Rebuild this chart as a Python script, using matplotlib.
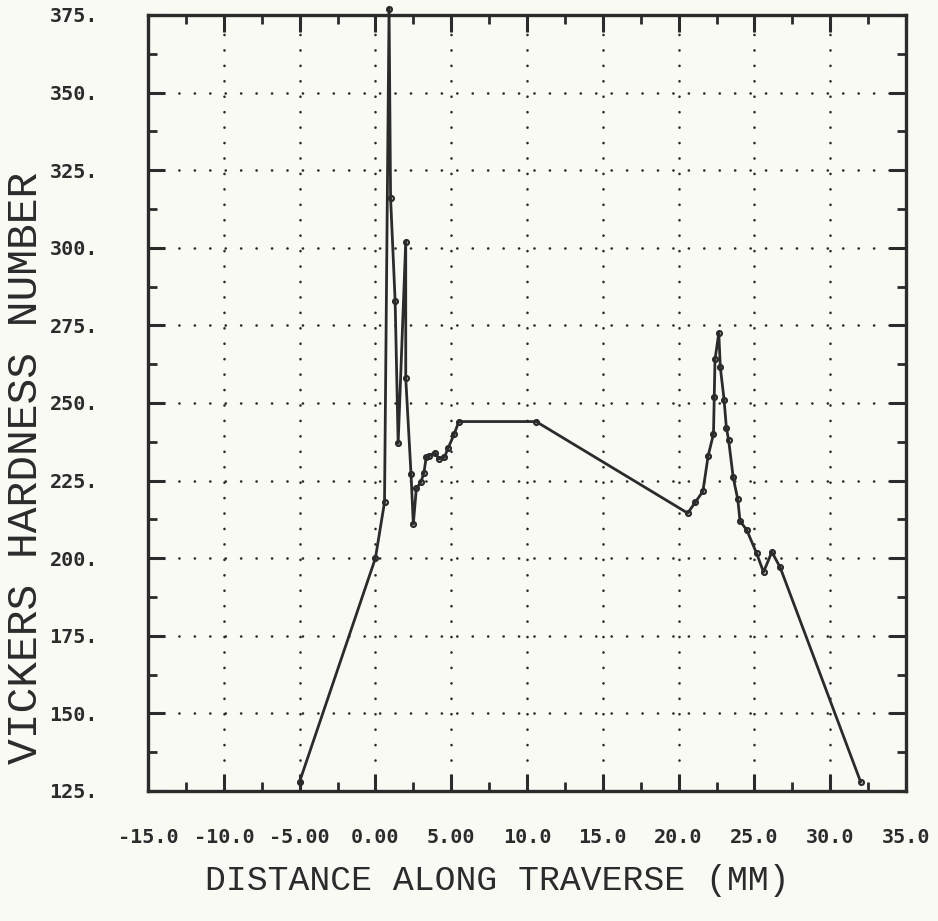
import matplotlib
matplotlib.use("Agg")
import matplotlib.pyplot as plt
from matplotlib.ticker import MultipleLocator, FixedLocator

# Hardness traverse readings (distance in mm, Vickers hardness)
distance = [-5.0, 0.0, 0.6, 0.9, 1.0, 1.3, 1.5, 2.0, 2.0, 2.35, 2.5,
            2.7, 3.0, 3.2, 3.35, 3.55, 3.9, 4.2, 4.55, 4.8, 5.2, 5.5,
            10.6, 20.6, 21.1, 21.6, 21.95, 22.3, 22.35, 22.4, 22.65,
            22.75, 23.0, 23.15, 23.3, 23.6, 23.9, 24.05, 24.5, 25.15,
            25.6, 26.15, 26.7, 32.0]
hardness = [128, 200, 218, 377, 316, 283, 237, 302, 258, 227, 211,
            222.5, 224.5, 227.5, 232.5, 233, 234, 232, 232.5, 235.5, 240, 244,
            244, 214.5, 218, 221.5, 233, 240, 252, 264, 272.5,
            261.5, 251, 242, 238, 226, 219, 212, 209, 201.5,
            195.5, 202, 197, 128]

x_ticks = [-15, -10, -5, 0, 5, 10, 15, 20, 25, 30, 35]
x_tick_labels = ["-15.0", "-10.0", "-5.00", "0.00", "5.00", "10.0",
                 "15.0", "20.0", "25.0", "30.0", "35.0"]
y_ticks = [125, 150, 175, 200, 225, 250, 275, 300, 325, 350, 375]
y_tick_labels = ["125.", "150.", "175.", "200.", "225.", "250.",
                 "275.", "300.", "325.", "350.", "375."]

ink = "#2b2b2b"
paper = "#fafaf5"
mono = ["DejaVu Sans Mono"]
title_font = ["Liberation Mono", "DejaVu Sans Mono"]

fig = plt.figure(figsize=(9.38, 9.21), dpi=100, facecolor=paper)
ax = fig.add_axes([0.1578, 0.1412, 0.8081, 0.8426], facecolor=paper)

ax.plot(distance, hardness, color=ink, lw=2.0, marker="o", ms=3.5,
        mfc="none", mec=ink, mew=1.6, clip_on=False, zorder=3)

ax.set_xlim(-15, 35)
ax.set_ylim(125, 375)

ax.xaxis.set_major_locator(FixedLocator(x_ticks))
ax.xaxis.set_minor_locator(MultipleLocator(2.5))
ax.yaxis.set_major_locator(FixedLocator(y_ticks))
ax.yaxis.set_minor_locator(MultipleLocator(12.5))
ax.set_xticklabels(x_tick_labels, family=mono, fontsize=14.5,
                   fontweight="bold", color=ink)
ax.set_yticklabels(y_tick_labels, family=mono, fontsize=14.5,
                   fontweight="bold", color=ink)

ax.tick_params(which="major", direction="in", length=12, width=2.2,
               color=ink, top=True, right=True)
ax.tick_params(which="minor", direction="in", length=6.5, width=2.0,
               color=ink, top=True, right=True)
ax.tick_params(axis="x", which="major", pad=27)
ax.tick_params(axis="y", which="major", pad=36)

for side in ax.spines.values():
    side.set_color(ink)
    side.set_linewidth(2.4)

ax.grid(which="major", color=ink, lw=1.9, linestyle=(0, (0.05, 5.8)),
        dash_capstyle="round")

fig.text(0.530, 0.044, "DISTANCE ALONG TRAVERSE (MM)", family=title_font,
         fontsize=25, color=ink, ha="center", va="center")
fig.text(0.028, 0.492, "VICKERS HARDNESS NUMBER", family=title_font,
         fontsize=31, color=ink, ha="center", va="center", rotation=90)

fig.savefig("out.png", dpi=100, facecolor=paper)
